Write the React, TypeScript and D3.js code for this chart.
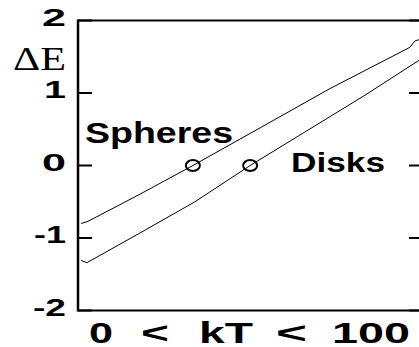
import React from 'react';
import * as d3 from 'd3';

// values (x: kT from 0 to 100, y: ΔE)
const yTicks = [2, 1, 0, -1, -2];
const yTickLabels = ['2', '1', '0', '-1', '-2'];
const yLabelWidths = [24, 22, 24, 32, 33];

const spheresKT = [0.9, 2.9, 17.4, 33.3, 52.8, 73.0, 96.2, 97.7, 100];
const spheresE = [-0.8, -0.77, -0.41, 0, 0.52, 1.06, 1.63, 1.72, 1.75];

const disksKT = [0.9, 2.6, 18.0, 33.9, 49.9, 83.2, 98.8, 100];
const disksE = [-1.31, -1.34, -0.93, -0.5, 0, 0.97, 1.45, 1.49];

// the zero crossings that are marked with a circle
const markers = [
  { kT: 33.3, e: 0 },
  { kT: 49.9, e: 0 },
];

const W = 419;
const H = 347;
const left = 78;
const right = 423;
const top = 20.5;
const bottom = 310.5;

export default function App() {
  const x = d3.scaleLinear().domain([0, 100]).range([left, right]);
  const y = d3.scaleLinear().domain([-2, 2]).range([bottom, top]);

  const line = d3
    .line<[number, number]>()
    .x(d => x(d[0]))
    .y(d => y(d[1]));

  const spheres = spheresKT.map((k, i) => [k, spheresE[i]] as [number, number]);
  const disks = disksKT.map((k, i) => [k, disksE[i]] as [number, number]);

  const bold = { fontFamily: '"Liberation Sans", Arial, sans-serif', fontWeight: 'bold' as const };

  return (
    <svg
      width={W}
      height={H}
      style={{ position: 'absolute', left: 0, top: 0, display: 'block', background: '#fff' }}
    >
      {/* frame */}
      <line x1={left} x2={left} y1={top - 1} y2={bottom + 1} stroke="#000" strokeWidth={2.5} />
      <line x1={left} x2={right} y1={top} y2={top} stroke="#000" strokeWidth={2} />
      <line x1={left} x2={right} y1={bottom} y2={bottom} stroke="#000" strokeWidth={2} />
      <line x1={right} x2={right} y1={top} y2={bottom} stroke="#000" strokeWidth={2} />

      {/* ticks */}
      {yTicks.map(t => (
        <g key={'t' + t}>
          <line x1={left} x2={left + 14} y1={y(t)} y2={y(t)} stroke="#000" strokeWidth={2} />
          <line x1={right - 14} x2={right} y1={y(t)} y2={y(t)} stroke="#000" strokeWidth={2} />
        </g>
      ))}

      {/* tick labels */}
      {yTicks.map((t, i) => (
        <text
          key={'l' + t}
          x={66}
          y={y(t) + 5}
          textAnchor="end"
          fontSize={24}
          textLength={yLabelWidths[i]}
          lengthAdjust="spacingAndGlyphs"
          {...bold}
        >
          {yTickLabels[i]}
        </text>
      ))}

      {/* curves */}
      <path d={line(spheres) || ''} fill="none" stroke="#000" strokeWidth={1} />
      <path d={line(disks) || ''} fill="none" stroke="#000" strokeWidth={1} />

      {markers.map((m, i) => (
        <ellipse
          key={'m' + i}
          cx={x(m.kT)}
          cy={y(m.e)}
          rx={7}
          ry={5.5}
          fill="none"
          stroke="#000"
          strokeWidth={2}
        />
      ))}

      {/* labels */}
      <text
        x={13}
        y={70}
        fontSize={33}
        fontFamily='"Liberation Serif", "Times New Roman", serif'
        textLength={53}
        lengthAdjust="spacingAndGlyphs"
      >
        ΔE
      </text>
      <text x={85} y={143} fontSize={29} textLength={148} lengthAdjust="spacingAndGlyphs" {...bold}>
        Spheres
      </text>
      <text x={291} y={172} fontSize={27} textLength={94} lengthAdjust="spacingAndGlyphs" {...bold}>
        Disks
      </text>

      <text x={89} y={343} fontSize={30} textLength={24} lengthAdjust="spacingAndGlyphs" {...bold}>0</text>
      <text x={141} y={343} fontSize={30} textLength={28} lengthAdjust="spacingAndGlyphs" {...bold}>&lt;</text>
      <text x={199} y={343} fontSize={30} textLength={54} lengthAdjust="spacingAndGlyphs" {...bold}>kT</text>
      <text x={276} y={343} fontSize={30} textLength={31} lengthAdjust="spacingAndGlyphs" {...bold}>&lt;</text>
      <text x={332} y={343} fontSize={30} textLength={78} lengthAdjust="spacingAndGlyphs" {...bold}>100</text>
    </svg>
  );
}
